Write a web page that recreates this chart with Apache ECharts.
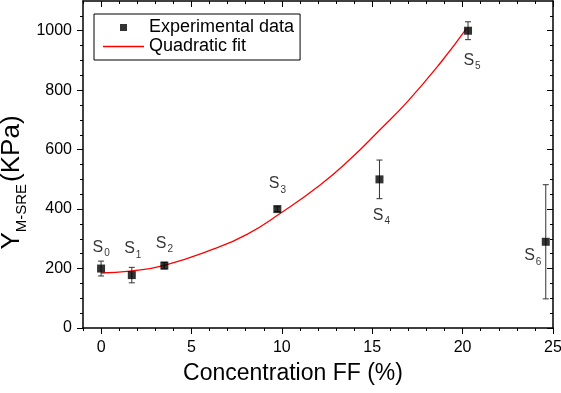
<!DOCTYPE html>
<html>
<head>
<meta charset="utf-8">
<style>
    html, body { margin: 0; padding: 0; background: #fff; }
    #chart { width: 561px; height: 393px; }
</style>
<script src="https://cdn.jsdelivr.net/npm/echarts@6/dist/echarts.min.js"></script>
</head>
<body>
<div id="chart"></div>
<script>
// 样品数据
const concentration = [0, 1.7, 3.5, 9.75, 15.4, 20.3, 24.6];
const modulus = [200, 178, 210, 400, 500, 1000, 290];
const modulusErr = [25, 26, 11, 8, 65, 30, 192];
const sampleNames = ['0', '1', '2', '3', '4', '5', '6'];

// 拟合曲线（沿红线读取的点）
const fitX = [0, 1.6, 3.5, 6.2, 8.1, 9.9, 12.1, 13.8, 15.4, 17.0, 18.8, 20.2];
const fitY = [185, 191, 211, 265, 316, 385, 480, 569, 665, 765, 894, 1006];

// 刻度
const xMajorTicks = [0, 5, 10, 15, 20, 25];
const xMinorTicks = [-1, 1, 2, 3, 4, 6, 7, 8, 9, 11, 12, 13, 14, 16, 17, 18, 19, 21, 22, 23, 24];
const yMajorTicks = [0, 200, 400, 600, 800, 1000];
const yMinorTicks = [50, 100, 150, 250, 300, 350, 450, 500, 550, 650, 700, 750, 850, 900, 950, 1050];

// 标签相对数据点的偏移（像素）
const labelOffsets = [[0, -21], [1, -26], [0, -22], [0, -25], [2, 36], [4, 30], [-13, 14]];

const FONT = 'Liberation Sans, Arial, sans-serif';

document.addEventListener('DOMContentLoaded', function () {
    const chart = echarts.init(document.getElementById('chart'));
    chart.setOption(getChartOptions());
});

function makeXAxis(position, ticks, length, inside, main) {
    return {
        type: 'value',
        position: position,
        min: -1,
        max: 25,
        name: main ? 'Concentration FF (%)' : '',
        nameLocation: 'middle',
        nameGap: 34,
        nameMoveOverlap: false,
        nameTextStyle: { fontFamily: FONT, fontSize: 23, color: '#000', padding: [0, 50, 0, 0] },
        axisLine: { show: length > 3, onZero: false, lineStyle: { color: '#000', width: 1.5 } },
        axisTick: { show: true, inside: inside, length: length, customValues: ticks, lineStyle: { color: '#000', width: 1 } },
        axisLabel: main
            ? { show: true, customValues: xMajorTicks, margin: 12, fontFamily: FONT, fontSize: 16, color: '#000', formatter: v => String(v) }
            : { show: false },
        splitLine: { show: false }
    };
}

function makeYAxis(position, ticks, length, inside, main) {
    return {
        type: 'value',
        position: position,
        min: 0,
        max: 1100,
        name: main ? '{y|Y}{s|M-SRE}{p|(KPa)}' : '',
        nameLocation: 'middle',
        nameRotate: 90,
        nameGap: 54,
        nameMoveOverlap: false,
        nameTextStyle: {
            padding: [0, 36, 0, 0],
            rich: {
                y: { fontFamily: FONT, fontSize: 26, lineHeight: 34, color: '#000' },
                s: { fontFamily: FONT, fontSize: 15, lineHeight: 15, verticalAlign: 'bottom', color: '#000', padding: [0, 2, 0, 0] },
                p: { fontFamily: FONT, fontSize: 26, lineHeight: 34, color: '#000' }
            }
        },
        axisLine: { show: length > 3, onZero: false, lineStyle: { color: '#000', width: 1.5 } },
        axisTick: { show: true, inside: inside, length: length, customValues: ticks, lineStyle: { color: '#000', width: 1 } },
        axisLabel: main
            ? { show: true, customValues: yMajorTicks, margin: 11, fontFamily: FONT, fontSize: 16, color: '#000', formatter: v => String(v) }
            : { show: false },
        splitLine: { show: false }
    };
}

function getChartOptions() {
    const points = concentration.map((x, i) => ({
        value: [x, modulus[i]],
        name: sampleNames[i],
        label: { offset: labelOffsets[i] }
    }));
    const errBars = concentration.map((x, i) => [x, modulus[i] - modulusErr[i], modulus[i] + modulusErr[i]]);
    const fitLine = fitX.map((x, i) => [x, fitY[i]]);

    return {
        backgroundColor: '#fff',
        animation: false,
        grid: { left: 83, right: 8, top: 1, bottom: 65, containLabel: false, outerBoundsMode: 'none' },
        legend: {
            data: [
                { name: 'Experimental data', icon: 'path://M0,0 L10,0 L10,10 L0,10 Z' },
                { name: 'Quadratic fit', icon: 'path://M0,0 L41,0 L41,1.3 L0,1.3 Z' }
            ],
            orient: 'vertical',
            left: 94,
            top: 14,
            itemWidth: 41,
            itemHeight: 7,
            itemGap: 0,
            itemTextGap: 5,
            symbolKeepAspect: true,
            padding: [4, 6, 4, 9],
            borderColor: '#000',
            borderWidth: 1,
            borderRadius: 0,
            textStyle: { fontFamily: FONT, fontSize: 18, lineHeight: 19, color: '#000' }
        },
        xAxis: [
            makeXAxis('bottom', xMajorTicks, 6, false, true),
            makeXAxis('bottom', xMinorTicks, 3, false, false),
            makeXAxis('top', xMajorTicks, 6, true, false),
            makeXAxis('top', xMinorTicks, 3, true, false)
        ],
        yAxis: [
            makeYAxis('left', yMajorTicks, 6, false, true),
            makeYAxis('left', yMinorTicks, 3, false, false),
            makeYAxis('right', yMajorTicks, 6, true, false),
            makeYAxis('right', yMinorTicks, 3, true, false)
        ],
        series: [
            {
                name: 'Quadratic fit',
                type: 'line',
                data: fitLine,
                smooth: 0.5,
                symbol: 'none',
                showSymbol: false,
                lineStyle: { color: '#ff0000', width: 1.3 },
                itemStyle: { color: '#ff0000' },
                z: 2
            },
            {
                name: 'error',
                type: 'custom',
                data: errBars,
                renderItem: function (params, api) {
                    const top = api.coord([api.value(0), api.value(2)]);
                    const bot = api.coord([api.value(0), api.value(1)]);
                    const style = { stroke: '#333', lineWidth: 1 };
                    return {
                        type: 'group',
                        children: [
                            { type: 'line', shape: { x1: top[0], y1: top[1], x2: bot[0], y2: bot[1] }, style: style },
                            { type: 'line', shape: { x1: top[0] - 3, y1: top[1], x2: top[0] + 3, y2: top[1] }, style: style },
                            { type: 'line', shape: { x1: bot[0] - 3, y1: bot[1], x2: bot[0] + 3, y2: bot[1] }, style: style }
                        ]
                    };
                },
                encode: { x: 0, y: [1, 2] },
                z: 3
            },
            {
                name: 'Experimental data',
                type: 'scatter',
                data: points,
                symbol: 'rect',
                symbolSize: 8,
                itemStyle: { color: '#000' },
                label: {
                    show: true,
                    position: 'inside',
                    formatter: function (p) {
                        return '{s|S}{n|' + p.name + '}';
                    },
                    rich: {
                        s: { fontFamily: FONT, fontSize: 16, lineHeight: 20, color: '#000' },
                        n: { fontFamily: FONT, fontSize: 10, lineHeight: 10, verticalAlign: 'bottom', color: '#000', padding: [0, 0, -1, 1] }
                    }
                },
                z: 4
            }
        ]
    };
}
</script>
</body>
</html>
